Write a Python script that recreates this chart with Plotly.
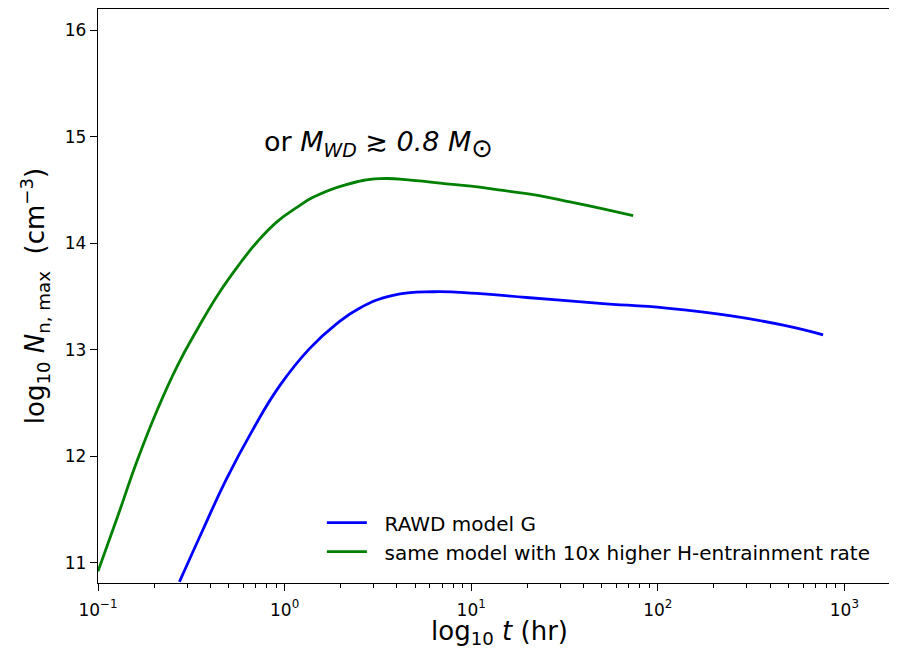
import plotly.graph_objects as go

# RAWD model G
t_blue = [0.273, 0.365, 0.486, 0.676, 0.94, 1.36, 1.89, 2.52, 3.81, 6.24, 10.7, 19.8, 48.9, 111, 253, 470, 769]
n_blue = [10.82, 11.31, 11.78, 12.25, 12.66, 13.01, 13.24, 13.39, 13.51, 13.544, 13.528, 13.49, 13.435, 13.39, 13.315, 13.23, 13.14]

# same model with 10x higher H-entrainment rate
t_green = [0.1, 0.1274, 0.163, 0.2085, 0.2667, 0.342, 0.4375, 0.560, 0.716, 0.916, 1.175, 1.42, 2.14, 3.23, 4.87, 7.36, 11.1, 14.8, 22.4, 33.8, 50.9, 73.8]
n_green = [10.92, 11.434, 11.969, 12.441, 12.851, 13.197, 13.512, 13.780, 14.016, 14.205, 14.34, 14.43, 14.55, 14.605, 14.59, 14.557, 14.526, 14.495, 14.451, 14.387, 14.321, 14.259]

x_ticks = [0.1, 1, 10, 100, 1000]
x_tick_labels = ["10<sup>−1</sup>", "10<sup>0</sup>", "10<sup>1</sup>", "10<sup>2</sup>", "10<sup>3</sup>"]
x_minor = [m * d for d in [0.1, 1, 10, 100, 1000] for m in range(2, 10)]
y_ticks = [11, 12, 13, 14, 15, 16]

FONT = "DejaVu Sans"
SP = "&nbsp;&nbsp;"

fig = go.Figure()
fig.add_trace(go.Scatter(x=t_blue, y=n_blue, mode="lines", name=SP + "RAWD model G",
                         line=dict(color="#0000ff", width=2.8, shape="spline", smoothing=1.3)))
fig.add_trace(go.Scatter(x=t_green, y=n_green, mode="lines",
                         name=SP + "same model with 10x higher H-entrainment rate",
                         line=dict(color="#008000", width=2.8, shape="spline", smoothing=1.3)))

fig.add_annotation(x=-0.12, y=14.93, xref="x", yref="y", xanchor="left", yanchor="middle",
                   text="or <i>M</i><sub><i>WD</i></sub> ≳ <i>0.8 M</i><sub><span style='font-size:26px'>⊙</span></sub>",
                   showarrow=False, font=dict(family=FONT, size=27, color="black"))

# x-axis title
fig.add_annotation(x=0.508, y=-0.087, xref="paper", yref="paper", xanchor="center", yanchor="middle",
                   text="log<sub>10</sub> <i>t</i> (hr)", showarrow=False,
                   font=dict(family=FONT, size=26, color="black"))

fig.update_layout(
    width=881, height=642,
    margin=dict(l=90, r=0, t=1, b=67, autoexpand=False),
    paper_bgcolor="white", plot_bgcolor="white",
    font=dict(family=FONT, size=17, color="black"),
    showlegend=True,
    legend=dict(x=0.283, y=0.139, xanchor="left", yanchor="top",
                bgcolor="rgba(255,255,255,0)", font=dict(size=20, family=FONT),
                tracegroupgap=0, itemwidth=40),
)
fig.update_xaxes(type="log", range=[-1, 3.239], showline=True, linecolor="black", linewidth=1.3,
                 mirror=True, ticks="outside", ticklen=7, tickcolor="black", automargin=False,
                 tickmode="array", tickvals=x_ticks, ticktext=x_tick_labels, showgrid=False, zeroline=False,
                 tickfont=dict(size=17), ticklabelstandoff=4,
                 minor=dict(tickmode="array", tickvals=x_minor, ticks="outside", ticklen=4,
                            tickcolor="black", showgrid=False))
fig.update_yaxes(range=[10.81, 16.198], showline=True, linecolor="black", linewidth=1.3,
                 mirror=False, ticks="outside", ticklen=7, tickcolor="black", automargin=False,
                 tickvals=y_ticks, showgrid=False, zeroline=False, tickfont=dict(size=17),
                 title=dict(text="log<sub>10</sub> <i>N</i><sub>n, max</sub>  (cm<sup>−3</sup>)",
                            font=dict(size=26), standoff=12))

fig.write_html("out.html")
